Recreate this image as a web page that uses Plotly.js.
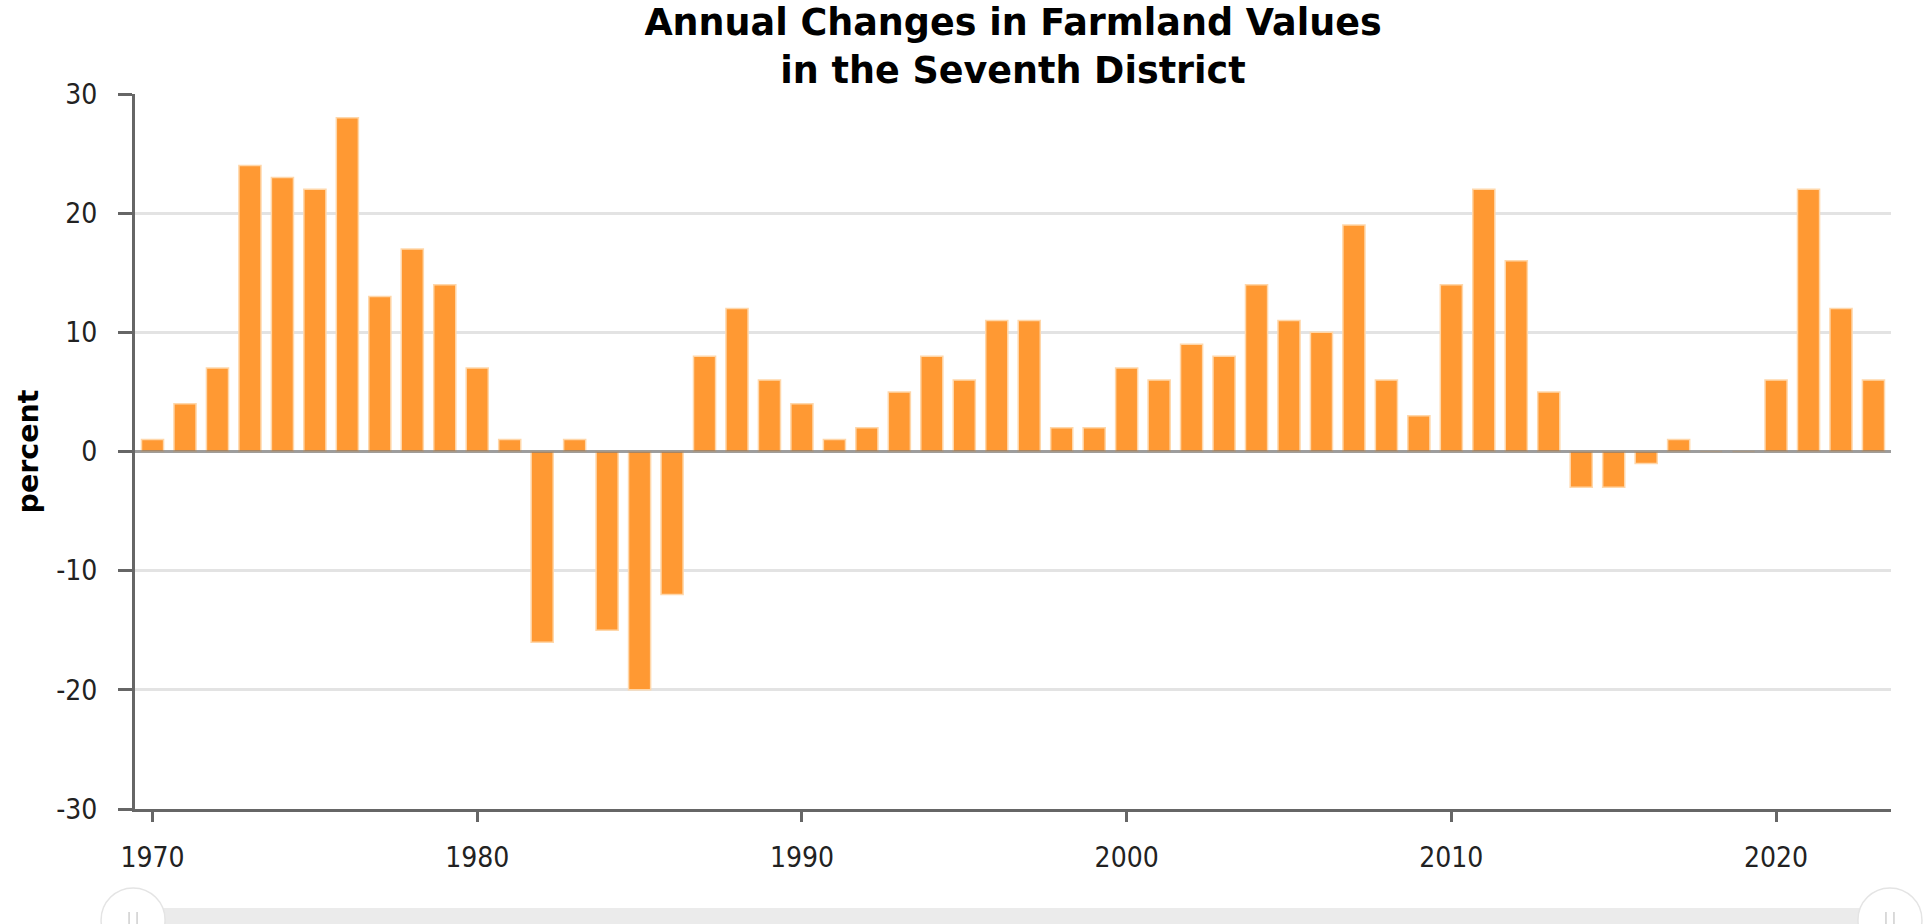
<!DOCTYPE html>
<html>
<head>
<meta charset="utf-8">
<script src="https://cdn.plot.ly/plotly-3.0.1.min.js"></script>
<style>
html,body{margin:0;padding:0;background:#fff;}
#chart{width:1930px;height:924px;}
</style>
</head>
<body>
<div id="chart"></div>
<script>
const years = [1970,1971,1972,1973,1974,1975,1976,1977,1978,1979,
  1980,1981,1982,1983,1984,1985,1986,1987,1988,1989,
  1990,1991,1992,1993,1994,1995,1996,1997,1998,1999,
  2000,2001,2002,2003,2004,2005,2006,2007,2008,2009,
  2010,2011,2012,2013,2014,2015,2016,2017,2018,2019,
  2020,2021,2022,2023];
const percentChange = [1,4,7,24,23,22,28,13,17,14,
  7,1,-16,1,-15,-20,-12,8,12,6,
  4,1,2,5,8,6,11,11,2,2,
  7,6,9,8,14,11,10,19,6,3,
  14,22,16,5,-3,-3,-1,1,0,0,
  6,22,12,6];
const xTicks = [1970,1980,1990,2000,2010,2020];
const yTicks = [-30,-20,-10,0,10,20,30];
const chartTitle = 'Annual Changes in Farmland Values<br>in the Seventh District';
const yTitle = 'percent';

const tickFamily = '"DejaVu Sans Condensed", "Liberation Sans", sans-serif';

const trace = {
  type: 'bar',
  x: years,
  y: percentChange,
  width: 0.68,
  marker: {color: '#FF9933', line: {color: 'rgba(255,215,170,1)', width: 1.5}},
  hoverinfo: 'x+y'
};

// scrollbar decoration (pixel-sized shapes anchored in paper coordinates)
const sbY = -0.1552;
const sbLeft = -0.0011, sbRight = 0.9994;
function grip(xa) {
  return [
    {type: 'line', xref: 'paper', yref: 'paper', xsizemode: 'pixel', ysizemode: 'pixel',
     xanchor: xa, yanchor: sbY, x0: -4, x1: -4, y0: 8, y1: -8, line: {color: '#cfcfcf', width: 1.5}},
    {type: 'line', xref: 'paper', yref: 'paper', xsizemode: 'pixel', ysizemode: 'pixel',
     xanchor: xa, yanchor: sbY, x0: 4, x1: 4, y0: 8, y1: -8, line: {color: '#cfcfcf', width: 1.5}}
  ];
}

const layout = {
  width: 1930, height: 924,
  paper_bgcolor: '#ffffff', plot_bgcolor: '#ffffff',
  margin: {l: 135, r: 39, t: 94, b: 115},
  showlegend: false,
  title: {
    text: chartTitle,
    font: {family: '"DejaVu Sans", Verdana, sans-serif', size: 36.5, color: '#000', weight: 'bold'},
    x: 0.5, xref: 'paper', xanchor: 'center',
    y: 0.962, yref: 'container', yanchor: 'top'
  },
  xaxis: {
    range: [1969.46, 2023.54],
    tickvals: xTicks, ticktext: xTicks.map(String),
    showgrid: false, zeroline: false,
    showline: true, linecolor: '#666', linewidth: 3,
    ticks: 'outside', ticklen: 10, tickwidth: 3, tickcolor: '#666',
    ticklabelstandoff: 11,
    tickfont: {family: tickFamily, size: 28, color: '#222'},
    fixedrange: true
  },
  yaxis: {
    range: [-30, 30],
    tickvals: yTicks, ticktext: yTicks.map(String),
    showgrid: true, gridcolor: '#e3e3e3', gridwidth: 3,
    zeroline: false,
    showline: true, linecolor: '#666', linewidth: 3,
    ticks: 'outside', ticklen: 14, tickwidth: 3, tickcolor: '#666',
    ticklabelstandoff: 15,
    tickfont: {family: tickFamily, size: 28, color: '#222'},
    title: {text: yTitle, standoff: 10,
      font: {family: '"DejaVu Sans", Verdana, sans-serif', size: 28.5, color: '#000', weight: 'bold'}},
    fixedrange: true
  },
  shapes: [
    {type: 'line', xref: 'paper', yref: 'y', x0: 0, x1: 1, y0: 0, y1: 0,
     line: {color: 'rgba(110,110,110,0.6)', width: 3}, layer: 'above'},
    {type: 'rect', xref: 'paper', yref: 'paper', x0: sbLeft, x1: sbRight, y0: -0.1385, y1: -0.17,
     fillcolor: '#ebebeb', line: {width: 0}, layer: 'above'},
    {type: 'circle', xref: 'paper', yref: 'paper', xsizemode: 'pixel', ysizemode: 'pixel',
     xanchor: sbLeft, yanchor: sbY, x0: -32, x1: 32, y0: -32, y1: 32,
     fillcolor: '#ffffff', line: {color: '#e4e4e4', width: 1.5}, layer: 'above'},
    {type: 'circle', xref: 'paper', yref: 'paper', xsizemode: 'pixel', ysizemode: 'pixel',
     xanchor: sbRight, yanchor: sbY, x0: -32, x1: 32, y0: -32, y1: 32,
     fillcolor: '#ffffff', line: {color: '#e4e4e4', width: 1.5}, layer: 'above'}
  ].concat(grip(sbLeft), grip(sbRight))
};

Plotly.newPlot('chart', [trace], layout, {displayModeBar: false, responsive: false});
</script>
</body>
</html>
